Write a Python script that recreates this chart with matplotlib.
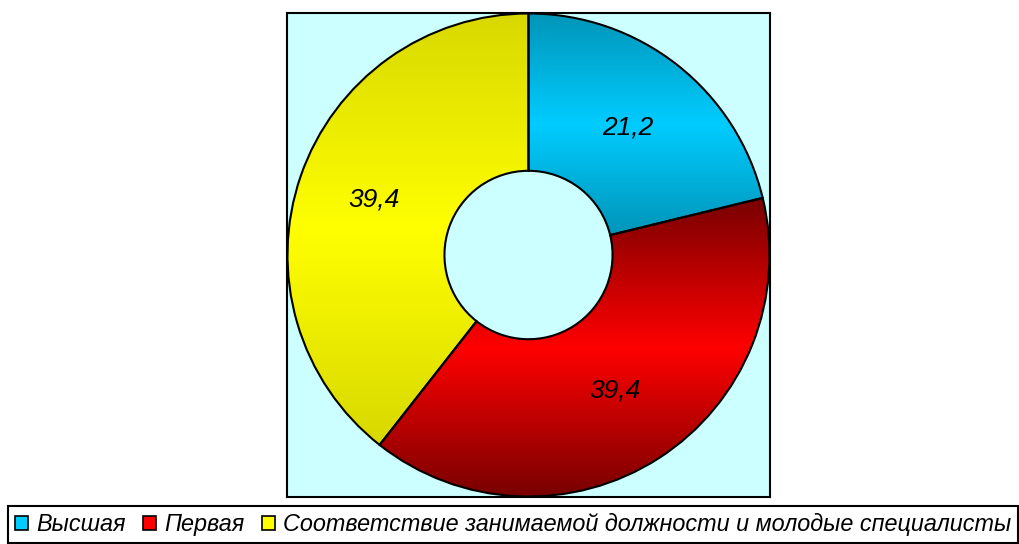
import numpy as np
import matplotlib.pyplot as plt
from matplotlib.patches import Patch
from matplotlib.colors import LinearSegmentedColormap

plt.rcParams['font.family'] = ['Liberation Sans', 'DejaVu Sans']

categories = ["Высшая", "Первая", "Соответствие занимаемой должности и молодые специалисты"]
values = [21.2, 39.4, 39.4]
labels = ["21,2", "39,4", "39,4"]
# (dark edge, bright middle) for the vertical gradient of each wedge
grads = [("#0095b8", "#00ccff"), ("#780000", "#ff0000"), ("#d8d800", "#ffff00")]
legend_colors = ["#00ccff", "#ff0000", "#ffff00"]
label_pos = [(0.41, 0.525), (0.36, -0.56), (-0.64, 0.23)]

fig = plt.figure(figsize=(10.2, 5.44), dpi=100)
ax = fig.add_axes([287/1020, 47/544, 483/1020, 484/544])

wedges, _ = ax.pie(values, startangle=90, counterclock=False, radius=0.998,
                   wedgeprops=dict(width=0.65, edgecolor="black", linewidth=1.5))

for w, (dark, bright) in zip(wedges, grads):
    w.set_facecolor("none")
    ext = w.get_path().get_extents()
    cmap = LinearSegmentedColormap.from_list("g", [dark, bright, dark])
    grad = np.linspace(0, 1, 256).reshape(-1, 1)
    im = ax.imshow(grad, cmap=cmap, extent=[ext.x0, ext.x1, ext.y0, ext.y1],
                   origin="lower", aspect="auto", zorder=w.get_zorder() - 0.1)
    im.set_clip_path(w)

for (x, y), t in zip(label_pos, labels):
    ax.text(x, y, t, ha="center", va="center", fontsize=19, style="italic")

ax.set_frame_on(True)
ax.set_facecolor("#ccffff")
ax.patch.set_visible(True)
for s in ax.spines.values():
    s.set_visible(True)
    s.set_linewidth(1.5)
    s.set_color("black")
ax.set_xlim(-1, 1)
ax.set_ylim(-1, 1)
ax.set_aspect("auto")
ax.set_xticks([])
ax.set_yticks([])

handles = [Patch(facecolor=c, edgecolor="black", linewidth=1.2) for c in legend_colors]
leg = fig.legend(handles, categories, loc="lower left", bbox_to_anchor=(8/1020, 1/544),
                 ncol=3, fancybox=False, edgecolor="black", handlelength=0.55,
                 handleheight=0.55, handletextpad=0.35, columnspacing=0.75,
                 borderaxespad=0, borderpad=0.3,
                 prop=dict(size=16.8, style="italic"))
leg.get_frame().set_linewidth(1.5)
leg.get_frame().set_alpha(1)

fig.savefig("out.png", dpi=100)
